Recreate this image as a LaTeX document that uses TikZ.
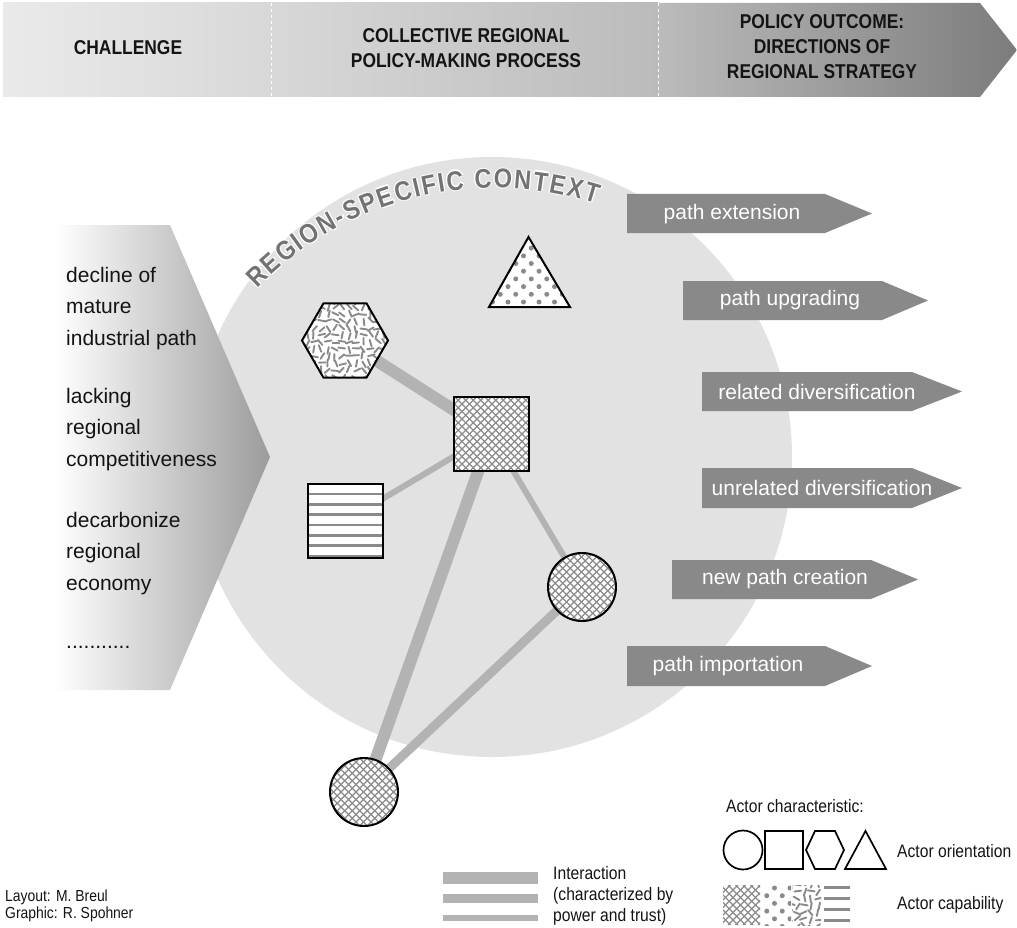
\documentclass[tikz,border=0pt]{standalone}
\usepackage{fontspec}
\setmainfont{Liberation Sans}
\newfontfamily\narrowfont[FakeStretch=0.87]{Liberation Sans}
\usetikzlibrary{decorations.text}

\definecolor{bandA}{HTML}{EAEAEA}
\definecolor{bandB}{HTML}{D8D8D8}
\definecolor{bandC}{HTML}{BBBBBB}
\definecolor{bandD}{HTML}{7C7C7C}
\definecolor{ctxgray}{HTML}{E2E2E2}
\definecolor{chevdark}{HTML}{9C9C9C}
\definecolor{linkgray}{HTML}{B3B3B3}
\definecolor{patgray}{HTML}{8A8A8A}
\definecolor{boxgray}{HTML}{898989}
\definecolor{arcgray}{HTML}{737373}
\definecolor{ink}{HTML}{141414}

% crosshatch over a box (clip must be active)
\newcommand\myhatchfill[4]{%
  \foreach \i in {0,...,44} {%
    \draw[hatchline] ({#1-(#4-#2)+\i*7.5},#2) -- ++({#4-#2},{#4-#2});
    \draw[hatchline] ({#1+\i*7.5},#2) -- ++({-(#4-#2)},{#4-#2});
  }}
% staggered dot lattice: origin x, origin y, columns, rows
\newcommand\mydotlattice[4]{%
  \foreach \j in {0,...,#4} {\foreach \i in {0,...,#3} {%
    \fill[patgray] ({#1+\i*15.5+mod(\j,2)*7.75},{#2+\j*7.7}) circle[radius=2.5pt];
  }}}
% scattered short dashes: origin x, origin y, columns, rows, seed
\newcommand\mydashscatter[5]{%
  \pgfmathsetseed{#5}%
  \foreach \j in {0,...,#4} {\foreach \i in {0,...,#3} {%
    \pgfmathsetmacro\dsA{rnd*180}%
    \pgfmathsetmacro\dsX{rnd*2.5}%
    \pgfmathsetmacro\dsY{rnd*2.5}%
    \draw[dashmark] ({#1+\i*7+\dsX},{#2+\j*7+\dsY}) ++(\dsA:3.4) -- ++({\dsA+180}:6.8);
  }}}
% label along the rim of the context disc: radius offset, angle offset, colour
\newcommand\rimlabel[3]{%
  \pgfmathsetmacro\rimS{136+#2}%
  \pgfmathsetmacro\rimE{72+#2}%
  \pgfmathsetmacro\rimR{329.5+#1}%
  \path[decorate, decoration={text along path, text align={fit to path}, text color=#3,
     text={|\narrowfont\bfseries\fontsize{27}{30}\selectfont|REGION-SPECIFIC CONTEXT}}]
     plot[domain=\rimS:\rimE, samples=80, variable=\t] ({494.5+\rimR*cos(\t)},{517.4-\rimR*sin(\t)});}

\begin{document}
\begin{tikzpicture}[x=1pt,y=-1pt,
  head/.style={font=\narrowfont\fontsize{20}{25}\selectfont\bfseries, text=ink, inner sep=0pt, align=center},
  chtext/.style={font=\fontsize{21}{31}\selectfont, text=ink, inner sep=0pt, anchor=base west},
  outtext/.style={font=\fontsize{21}{25}\selectfont, text=white, inner sep=0pt},
  legtext/.style={font=\narrowfont\fontsize{18}{21}\selectfont, text=ink, inner sep=0pt, anchor=base west, align=left},
  credit/.style={font=\narrowfont\fontsize{16}{16}\selectfont, text=ink, inner sep=0pt, anchor=base west},
  link/.style={draw=linkgray},
  hatchline/.style={draw=patgray, line width=1.3pt},
  dashmark/.style={draw=patgray, line width=1.9pt, line cap=round},
  stripe/.style={draw=patgray, line width=2.6pt},
  actor/.style={draw=black, line width=2pt},
  legshape/.style={draw=black, line width=1.7pt},
  outbox/.style={fill=boxgray}
]
\useasboundingbox (0,0) rectangle (1017,928);
\fill[white] (0,0) rectangle (1017,928);

% ---- process banner
\shade[left color=bandA, right color=bandB] (3,3) rectangle (271,97);
\shade[left color=bandB, right color=bandC] (271,3) rectangle (658,97);
\shade[left color=bandC, right color=bandD] (658,3) -- (980,3) -- (1017,50) -- (980,97) -- (658,97) -- cycle;
\draw[white, dashed, line width=0.8pt] (271,3) -- (271,97);
\draw[white, dashed, line width=0.8pt] (658,3) -- (658,97);
\node[head] (hchal) at (128,48) {CHALLENGE};
\node[head] (hproc) at (466,48) {COLLECTIVE REGIONAL\\POLICY-MAKING PROCESS};
\node[head] (hout) at (822,47) {POLICY OUTCOME:\\DIRECTIONS OF\\REGIONAL STRATEGY};

% ---- regional context
\fill[ctxgray] (492,457) circle[radius=300pt];

% ---- challenge chevron
\shade[left color=white, right color=chevdark] (55,225) -- (170,225) -- (270,457) -- (170,690) -- (55,690) -- cycle;
\node[chtext] (c1) at (66,282) {decline of};
\node[chtext] (c2) at (66,313.5) {mature};
\node[chtext] (c3) at (66,345) {industrial path};
\node[chtext] (c4) at (66,403) {lacking};
\node[chtext] (c5) at (66,434.5) {regional};
\node[chtext] (c6) at (66,466) {competitiveness};
\node[chtext] (c7) at (66,527) {decarbonize};
\node[chtext] (c8) at (66,558.5) {regional};
\node[chtext] (c9) at (66,590) {economy};
\node[chtext] (c10) at (66,648) {...........};

% ---- actors
\coordinate (hex) at (345,340.5);
\coordinate (tri) at (529,280);
\coordinate (sqc) at (491.5,434);
\coordinate (sqs) at (345.5,521);
\coordinate (cr) at (582,587);
\coordinate (cb) at (364,792);

% interactions
\draw[link, line width=12pt] (hex) -- (sqc);
\draw[link, line width=6pt] (sqs) -- (sqc);
\draw[link, line width=6pt] (sqc) -- (cr);
\draw[link, line width=12pt] (sqc) -- (cb);
\draw[link, line width=9pt] (cr) -- (cb);

% hexagon with scattered dashes
\begin{scope}
  \clip (388,340.5) -- (366.5,303.3) -- (323.5,303.3) -- (302,340.5) -- (323.5,377.7) -- (366.5,377.7) -- cycle;
  \fill[white] (300,300) rectangle (390,380);
  \mydashscatter{299}{299}{13}{12}{11}
\end{scope}
\draw[actor] (388,340.5) -- (366.5,303.3) -- (323.5,303.3) -- (302,340.5) -- (323.5,377.7) -- (366.5,377.7) -- cycle;

% dotted triangle
\begin{scope}
  \clip (489,307) -- (528.5,237) -- (570,307) -- cycle;
  \fill[white] (485,235) rectangle (572,309);
  \mydotlattice{477}{240.4}{7}{9}
\end{scope}
\draw[actor, line join=miter] (489,307) -- (528.5,237) -- (570,307) -- cycle;

% cross-hatched square
\begin{scope}
  \clip (454,397) rectangle (529,471);
  \fill[white] (454,397) rectangle (529,471);
  \myhatchfill{454}{397}{529}{471}
\end{scope}
\draw[actor] (454,397) rectangle (529,471);

% striped square
\begin{scope}
  \clip (308,484) rectangle (383,558);
  \fill[white] (308,484) rectangle (383,558);
  \foreach \yy in {494,504.3,514.6,524.9,535.2,545.5,555.8} \draw[stripe] (308,\yy) -- (383,\yy);
\end{scope}
\draw[actor] (308,484) rectangle (383,558);

% cross-hatched circles
\begin{scope}
  \clip (cr) circle[radius=34pt];
  \fill[white] (548,553) rectangle (616,621);
  \myhatchfill{548}{553}{616}{621}
\end{scope}
\draw[actor] (cr) circle[radius=34pt];
\begin{scope}
  \clip (cb) circle[radius=34pt];
  \fill[white] (330,758) rectangle (398,826);
  \myhatchfill{330}{758}{398}{826}
\end{scope}
\draw[actor] (cb) circle[radius=34pt];

% context label along the rim, with a thin white halo
\foreach \hr/\ha in {1.2/0, -1.2/0, 0/0.22, 0/-0.22} {\rimlabel{\hr}{\ha}{white}}
\rimlabel{0}{0}{arcgray}

% ---- strategy directions
\fill[outbox] (627,194) -- (825,194) -- (872,213.5) -- (825,233) -- (627,233) -- cycle;
\node[outtext] (o1) at (732,214) {path extension};
\fill[outbox] (683,281) -- (882,281) -- (928,300.5) -- (882,320) -- (683,320) -- cycle;
\node[outtext] (o2) at (790,300.5) {path upgrading};
\fill[outbox] (702,372) -- (912,372) -- (962,391.5) -- (912,411) -- (702,411) -- cycle;
\node[outtext] (o3) at (817,391.5) {related diversification};
\fill[outbox] (702,468) -- (912,468) -- (962,488) -- (912,508) -- (702,508) -- cycle;
\node[outtext] (o4) at (822,488) {unrelated diversification};
\fill[outbox] (672,560) -- (871,560) -- (918,579.5) -- (871,599) -- (672,599) -- cycle;
\node[outtext] (o5) at (785,579.5) {new path creation};
\fill[outbox] (627,646) -- (825,646) -- (872,666) -- (825,686) -- (627,686) -- cycle;
\node[outtext] (o6) at (728,666) {path importation};

% ---- interaction legend
\fill[linkgray] (443,872) rectangle (538,884);
\fill[linkgray] (443,893.5) rectangle (538,902.5);
\fill[linkgray] (443,915) rectangle (538,921);
\node[legtext] (leginter) at (553,921) {Interaction\\(characterized by\\power and trust)};

% ---- actor legend
\node[legtext] (legchar) at (726,812) {Actor characteristic:};
\draw[legshape] (743,850) circle[radius=19.5pt];
\draw[legshape] (765,831) rectangle (803,869);
\draw[legshape] (806,850) -- (815,831) -- (835,831) -- (844,850) -- (835,869) -- (815,869) -- cycle;
\draw[legshape, line join=miter] (845,869) -- (865.5,831) -- (886,869) -- cycle;
\node[legtext] (legorient) at (897,857) {Actor orientation};
\begin{scope}
  \clip (723,885) rectangle (760,925);
  \myhatchfill{723}{885}{760}{925}
\end{scope}
\begin{scope}
  \clip (763,885) rectangle (791,925);
  \mydotlattice{759}{888}{3}{5}
\end{scope}
\begin{scope}
  \clip (792,885) rectangle (821,925);
  \mydashscatter{789}{883}{5}{6}{5}
\end{scope}
\foreach \yy in {887,898,909,920} \draw[draw=patgray, line width=3pt] (824,\yy) -- (850,\yy);
\node[legtext] (legcap) at (897,909) {Actor capability};

% ---- credits
\node[credit] (cred1) at (5,901) {Layout: M. Breul};
\node[credit] (cred2) at (5,918) {Graphic: R. Spohner};
\end{tikzpicture}
\end{document}
